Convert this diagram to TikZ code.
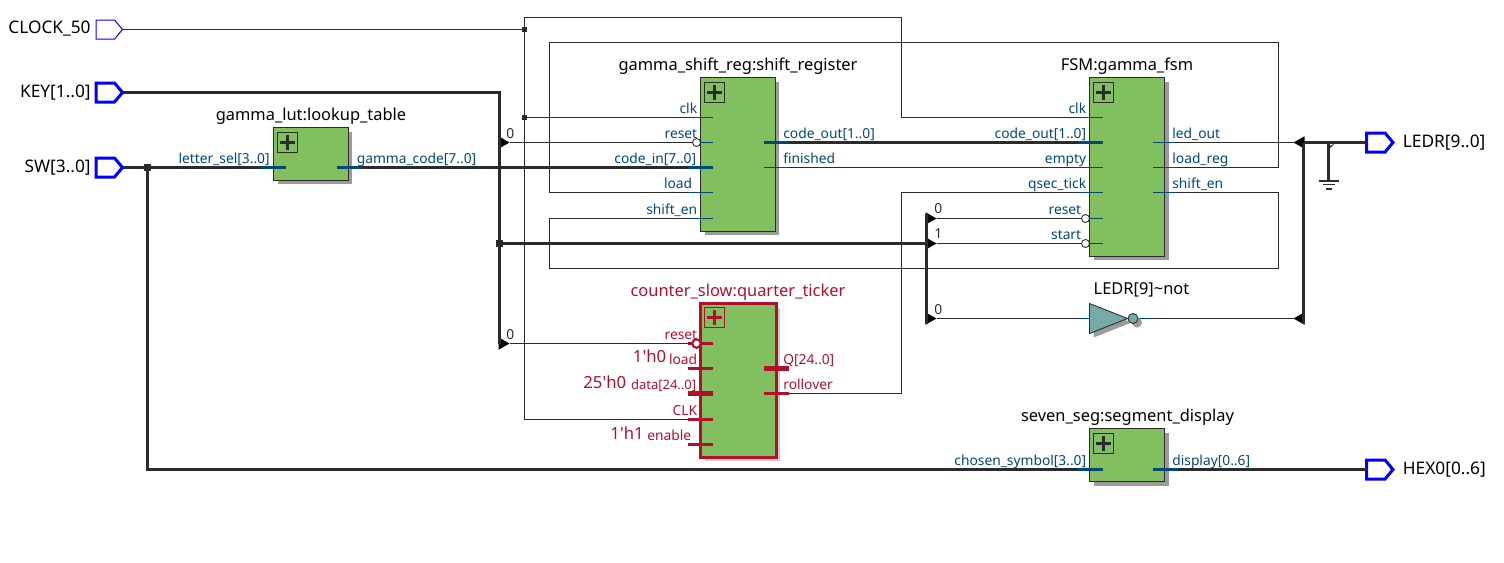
\documentclass[tikz,border=0pt]{standalone}
\usepackage{fontspec}
\setmainfont{Noto Sans}
\usetikzlibrary{arrows.meta,shapes.geometric,shapes.symbols,shadows}
\definecolor{qwire}{RGB}{43,43,43}
\definecolor{qblue}{RGB}{0,0,255}
\definecolor{qpin}{RGB}{0,72,120}
\definecolor{qred}{RGB}{176,16,42}
\definecolor{qgreen}{RGB}{130,191,95}
\definecolor{qteal}{RGB}{116,171,168}
\definecolor{qshadow}{RGB}{155,155,155}
\definecolor{qshadowlt}{RGB}{200,200,200}
\tikzset{
  wire/.style={qwire,line width=0.57pt},
  bus/.style={qwire,line width=1.71pt},
  stub/.style={qpin,line width=0.57pt},
  stubbus/.style={qpin,line width=1.71pt},
  stubred/.style={qred,line width=1.3pt},
  stubredbus/.style={qred,line width=2.6pt},
  block/.style={draw=qwire,fill=qgreen,line width=0.57pt,inner sep=0pt,outer sep=0pt,anchor=north west,
    minimum width=1.5cm,drop shadow={shadow xshift=0.08cm,shadow yshift=-0.08cm,fill=qshadow,opacity=1}},
  redblock/.style={draw=qred,fill=qgreen,line width=1.71pt,inner sep=0pt,outer sep=0pt,anchor=north west,
    minimum width=1.52cm,drop shadow={shadow xshift=0.08cm,shadow yshift=-0.08cm,fill=qshadowlt,opacity=1}},
  plusbox/.style={draw=#1,line width=0.57pt,inner sep=0pt,anchor=north west,minimum size=0.4cm,
    path picture={
      \draw[#1,line width=1.71pt] ([xshift=-0.15cm]path picture bounding box.center) -- ([xshift=0.15cm]path picture bounding box.center);
      \draw[#1,line width=1.71pt] ([yshift=-0.15cm]path picture bounding box.center) -- ([yshift=0.15cm]path picture bounding box.center);
    }},
  title/.style={anchor=base,inner sep=0pt,font=\fontsize{9.35}{11}\selectfont},
  portlabel/.style={inner sep=0pt,text=black,font=\fontsize{9.85}{11}\selectfont},
  pinleft/.style={anchor=base east,inner sep=0pt,text=qpin,font=\fontsize{7.85}{9}\selectfont},
  pinright/.style={anchor=base west,inner sep=0pt,text=qpin,font=\fontsize{7.85}{9}\selectfont},
  const/.style={anchor=base east,inner sep=0pt,text=qred,font=\fontsize{9.5}{11}\selectfont},
  tielabel/.style={anchor=base west,inner sep=0pt,text=qwire,font=\fontsize{7.85}{9}\selectfont},
  port/.style={signal,signal to=east,signal pointer angle=100,draw=qblue,fill=white,inner sep=0pt,outer sep=0pt,
    minimum width=0.53cm,minimum height=0.38cm,line width=1.71pt},
  clkport/.style={port,line width=0.57pt},
  bubble/.style={circle,draw=qwire,fill=white,line width=0.5pt,inner sep=0pt,minimum size=0.16cm},
  redbubble/.style={circle,draw=qred,fill=white,line width=1.2pt,inner sep=0pt,minimum size=0.17cm},
  dotthin/.style={rectangle,fill=qwire,inner sep=0pt,minimum size=0.09cm},
  dotbus/.style={rectangle,fill=qwire,inner sep=0pt,minimum size=0.14cm},
  tie/.style={isosceles triangle,isosceles triangle stretches,fill=black,inner sep=0pt,outer sep=0pt,
    minimum width=0.25cm,minimum height=0.22cm,anchor=west},
  tieback/.style={tie,shape border rotate=180,anchor=east},
  notgate/.style={isosceles triangle,isosceles triangle stretches,draw=qwire,fill=qteal,line width=0.5pt,inner sep=0pt,outer sep=0pt,
    minimum width=0.6cm,minimum height=0.76cm,anchor=west,
    drop shadow={shadow xshift=0.08cm,shadow yshift=-0.08cm,fill=qshadow,opacity=1}},
  notdot/.style={circle,draw=qwire,fill=qteal,line width=0.5pt,inner sep=0pt,minimum size=0.2cm,
    drop shadow={shadow xshift=0.08cm,shadow yshift=-0.08cm,fill=qshadow,opacity=1}},
}
\begin{document}
\begin{tikzpicture}[x=0.02cm,y=-0.02cm]
  \useasboundingbox (-0.5,-0.5) rectangle (1503.5,561.5);
  % Blocks
  \node[block,minimum height=1.06cm] (lut) at (273,127) {};
  \node[block,minimum height=3.08cm] (shift) at (700,77) {};
  \node[block,minimum height=3.58cm] (fsm) at (1089,77) {};
  \node[redblock,minimum height=3.08cm] (ticker) at (700,303) {};
  \node[block,minimum height=1.06cm] (seg) at (1089,428) {};
  \foreach \b in {lut,shift,fsm,seg}
    \node[plusbox=qwire] (\b-plus) at ([xshift=0.07cm,yshift=-0.08cm]\b.north west) {};
  \node[plusbox=qred] (ticker-plus) at ([xshift=0.06cm,yshift=-0.07cm]ticker.north west) {};
  % Titles
  \node[title] (lut-title) at (310.5,120) {gamma\_lut:lookup\_table};
  \node[title] (shift-title) at (737.5,70) {gamma\_shift\_reg:shift\_register};
  \node[title] (fsm-title) at (1126.5,70) {FSM:gamma\_fsm};
  \node[title,text=qred] (ticker-title) at (737.5,296) {counter\_slow:quarter\_ticker};
  \node[title] (seg-title) at (1127,421) {seven\_seg:segment\_display};
  \node[title] (not-title) at (1141,294) {LEDR[9]\textasciitilde not};
  % Ports
  \node[clkport,anchor=east] (clock) at (122,29) {};
  \node[port,anchor=east] (key) at (122,92) {};
  \node[port,anchor=east] (sw) at (122,167) {};
  \node[port,anchor=west] (ledr) at (1366,142) {};
  \node[port,anchor=west] (hex) at (1366,469) {};
  \node[portlabel,anchor=base east] (clock-text) at (90.5,33) {CLOCK\_50};
  \node[portlabel,anchor=base east] (key-text) at (90.5,96.5) {KEY[1..0]};
  \node[portlabel,anchor=base east] (sw-text) at (90.5,171.5) {SW[3..0]};
  \node[portlabel,anchor=base west] (ledr-text) at (1402,147) {LEDR[9..0]};
  \node[portlabel,anchor=base west] (hex-text) at (1402,473.5) {HEX0[0..6]};
  % Input pins
  \foreach \b/\p/\x/\y/\r/\txt/\s in {lut/sel/260/167/269.5/letter\_sel[3..0]/stubbus,
      shift/clk/687/117/697/clk/stub, shift/reset/687/142/697/reset/stub,
      shift/in/687/167/696/code\_in[7..0]/stubbus, shift/load/687/192/692/load/stub,
      shift/en/687/218/697/shift\_en/stub, fsm/clk/1077/117/1086/clk/stub,
      fsm/code/1077/142/1086/code\_out[1..0]/stubbus, fsm/empty/1077/167/1086/empty/stub,
      fsm/tick/1077/192/1086/qsec\_tick/stub, fsm/reset/1077/218/1081/reset/stub,
      fsm/start/1077/243/1081/start/stub, seg/sym/1077/469/1086/chosen\_symbol[3..0]/stubbus}
  {
    \coordinate (\b-\p) at (\x,\y);
    \draw[\s] (\b-\p) -- (\x+25,\y);
    \node[pinleft] (\b-\p-text) at (\r,\y-4.5) {\txt};
  }
  % Output pins
  \foreach \b/\p/\x/\y/\r/\txt/\s in {lut/code/336/167/356/gamma\_code[7..0]/stubbus,
      shift/out/763/142/782.5/code\_out[1..0]/stubbus, shift/fin/763/167/782.5/finished/stub,
      fsm/led/1152/142/1171.5/led\_out/stub, fsm/load/1152/167/1171.5/load\_reg/stub,
      fsm/en/1152/192/1171.5/shift\_en/stub, seg/disp/1152/469/1171.5/display[0..6]/stubbus}
  {
    \coordinate (\b-\p) at (\x+25,\y);
    \draw[\s] (\x,\y) -- (\b-\p);
    \node[pinright] (\b-\p-text) at (\r,\y-4.5) {\txt};
  }
  % Counter pins
  \foreach \p/\y/\r/\txt/\s in {reset/343/697/reset/stubred, load/368/697/load/stubred,
      data/393/696/{\fontsize{7.4}{9}\selectfont data[24..0]}/stubredbus, clk/419/697/CLK/stubred, enable/444/691/enable/stubred}
  {
    \coordinate (ticker-\p) at (687,\y);
    \draw[\s] (ticker-\p) -- (712,\y);
    \node[pinleft,text=qred] (ticker-\p-text) at (\r,\y-4.5) {\txt};
  }
  \foreach \p/\y/\txt/\s in {q/368/Q[24..0]/stubredbus, roll/393/rollover/stubred}
  {
    \coordinate (ticker-\p) at (788,\y);
    \draw[\s] (763,\y) -- (ticker-\p);
    \node[pinright,text=qred] (ticker-\p-text) at (782.5,\y-4.5) {\txt};
  }
  \node[const] (load-const) at (666,362) {1\textquotesingle h0};
  \node[const] (data-const) at (626,388) {25\textquotesingle h0};
  \node[const] (enable-const) at (643.5,438.5) {1\textquotesingle h1};
  % Bubbles on inverted pins
  \node[bubble] (shift-bub) at (696,142) {};
  \node[bubble] (fsm-rbub) at (1085,218) {};
  \node[bubble] (fsm-sbub) at (1085,243) {};
  \node[redbubble] (ticker-bub) at (696,343) {};
  % Inverter
  \coordinate (not-in) at (1077,318);
  \coordinate (not-out) at (1152,318);
  \draw[stub] (not-in) -- (not-out);
  \node[notgate] (inv) at (1089,318) {};
  \node[notdot] (inv-dot) at (1132.5,318) {};
  % Joints and ties
  \node[dotthin] (clk-join) at (524,29) {};
  \node[dotthin] (clk-join2) at (524,117) {};
  \node[dotbus] (sw-join) at (147,167) {};
  \node[dotbus] (key-join) at (499,243) {};
  \node[tie] (tie-shift) at (498,142) {};
  \node[tie] (tie-ticker) at (498,343) {};
  \node[tie] (tie-reset) at (925,218) {};
  \node[tie] (tie-start) at (925,243) {};
  \node[tie] (tie-not) at (925,318) {};
  \node[tieback] (tie-led) at (1304,142) {};
  \node[tieback] (tie-inv) at (1304,318) {};
  \node[tielabel] (zero-a) at (505.5,137.5) {0};
  \node[tielabel] (zero-b) at (505.5,338.5) {0};
  \node[tielabel] (zero-c) at (933.5,212.5) {0};
  \node[tielabel] (one-a) at (933.5,237.5) {1};
  \node[tielabel] (zero-d) at (933.5,313.5) {0};
  % Named bends
  \coordinate (clk-top) at (524,17);
  \coordinate (clk-right) at (901,17);
  \coordinate (load-top) at (549,42);
  \coordinate (load-right) at (1278,42);
  \coordinate (en-bot) at (549,268);
  \coordinate (en-right) at (1278,268);
  \coordinate (tick-up) at (901,192);
  \coordinate (key-down) at (499,343);
  \coordinate (tie-top) at (926,213);
  \coordinate (tie-bot) at (926,323);
  \coordinate (led-top) at (1303,142);
  \coordinate (led-bot) at (1303,323);
  \coordinate (gnd) at (1328,180);
  \coordinate (gnd-top) at (1328,142);
  % Clock wires
  \draw[wire] (clock.east) -- (clk-join);
  \draw[wire] (ticker-clk) -| (clk-top) -- (clk-right) |- (fsm-clk);
  \draw[wire] (clk-join2) -- (shift-clk);
  % Control wires
  \draw[wire] (tie-shift.apex) -- (shift-bub.west);
  \draw[wire] (tie-ticker.apex) -- (ticker-bub.west);
  \draw[wire] (tie-reset.apex) -- (fsm-rbub.west);
  \draw[wire] (tie-start.apex) -- (fsm-sbub.west);
  \draw[wire] (tie-not.apex) -- (not-in);
  \draw[wire] (not-out) -- (tie-inv.apex);
  \draw[wire] (fsm-led) -- (tie-led.apex);
  \draw[wire] (shift-fin) -- (fsm-empty);
  \draw[wire] (ticker-roll) -| (tick-up) -- (fsm-tick);
  \draw[wire] (fsm-load) -| (load-right) -- (load-top) |- (shift-load);
  \draw[wire] (fsm-en) -| (en-right) -- (en-bot) |- (shift-en);
  % Buses
  \draw[bus] (key.east) -| (key-down);
  \draw[bus] (key-join) -- (tie-start);
  \draw[bus] (tie-top) -- (tie-bot);
  \draw[bus] (sw.east) -- (lut-sel);
  \draw[bus] (lut-code) -- (shift-in);
  \draw[bus] (shift-out) -- (fsm-code);
  \draw[bus] (sw-join) |- (seg-sym);
  \draw[bus] (seg-disp) -- (hex.west);
  \draw[bus] (led-top) -- (ledr.west);
  \draw[bus] (led-top) -- (led-bot);
  % Ground
  \draw[qwire,line width=1.3pt] (gnd-top) -- (gnd);
  \fill[qwire] (1328,146) -- (1334,143) -- (1328,149) -- cycle;
  \draw[qwire,line width=1.4pt] (1318,180.5) -- (1338,180.5);
  \draw[qwire,line width=1.1pt] (1322.7,184) -- (1334,184);
  \draw[qwire,line width=1.5pt] (1325,188.5) -- (1331,188.5);
\end{tikzpicture}
\end{document}
